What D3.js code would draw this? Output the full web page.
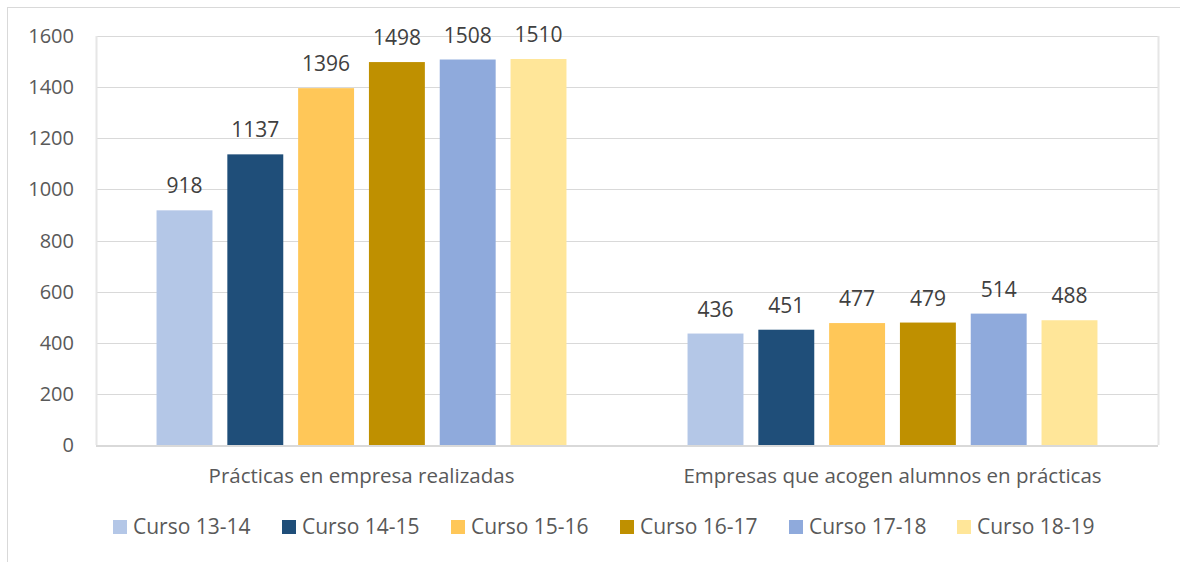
<!DOCTYPE html>
<html>
<head>
<meta charset="utf-8">
<script src="https://cdn.jsdelivr.net/npm/d3@7"></script>
<style>
  body { margin: 0; background: #fff; }
  svg text { font-family: "Open Sans", "Liberation Sans", sans-serif; }
</style>
</head>
<body>
<div id="chart"></div>
<script>
// Chart data
const groups = ['Prácticas en empresa realizadas', 'Empresas que acogen alumnos en prácticas'];
const series = ['Curso 13-14', 'Curso 14-15', 'Curso 15-16', 'Curso 16-17', 'Curso 17-18', 'Curso 18-19'];
const practicas = [918, 1137, 1396, 1498, 1508, 1510];
const empresas = [436, 451, 477, 479, 514, 488];
const yTicks = [0, 200, 400, 600, 800, 1000, 1200, 1400, 1600];
const colors = ['#B4C7E7', '#1F4E79', '#FFC758', '#BF9000', '#8FAADC', '#FFE699'];

const width = 1180;
const height = 562;
const margin = { top: 36, right: 22, bottom: 117, left: 96 };

const svg = d3.select('#chart').append('svg')
    .attr('width', width)
    .attr('height', height);

// outer chart frame
svg.append('rect')
    .attr('x', 7.5).attr('y', 7.5)
    .attr('width', 1200).attr('height', 570)
    .attr('fill', 'none')
    .attr('stroke', '#d9d9d9');

const y = d3.scaleLinear()
    .domain([0, 1600])
    .range([height - margin.bottom, margin.top]);

const x0 = d3.scaleBand()
    .domain(groups)
    .range([margin.left, width - margin.right]);

const x1 = d3.scaleBand()
    .domain(series)
    .range([0, x0.bandwidth()])
    .paddingInner(0.21)
    .paddingOuter(0.855);

// gridlines
svg.append('g')
    .selectAll('line')
    .data(yTicks.slice(1))
    .enter().append('line')
    .attr('x1', margin.left).attr('x2', width - margin.right)
    .attr('y1', d => Math.round(y(d)) + 0.5).attr('y2', d => Math.round(y(d)) + 0.5)
    .attr('stroke', '#d9d9d9');

// plot area side borders
[margin.left, width - margin.right].forEach(xx => {
    svg.append('line')
        .attr('x1', xx + 0.5).attr('x2', xx + 0.5)
        .attr('y1', margin.top).attr('y2', y(0))
        .attr('stroke', '#e6e6e6')
        .attr('stroke-width', 2);
});

// y tick labels
svg.append('g')
    .selectAll('text')
    .data(yTicks)
    .enter().append('text')
    .attr('x', 74)
    .attr('y', d => y(d))
    .attr('dy', '0.35em')
    .attr('text-anchor', 'end')
    .attr('fill', '#595959')
    .style('font-size', '20px')
    .text(d => d);

const rows = groups.map((g, i) => ({
    group: g,
    values: (i === 0 ? practicas : empresas).map((v, j) => ({ key: series[j], value: v, color: colors[j] }))
}));

const groupSel = svg.selectAll('g.group')
    .data(rows)
    .enter().append('g')
    .attr('class', 'group')
    .attr('transform', d => `translate(${x0(d.group)},0)`);

groupSel.selectAll('rect')
    .data(d => d.values)
    .enter().append('rect')
    .attr('x', d => x1(d.key))
    .attr('y', d => y(d.value))
    .attr('width', x1.bandwidth())
    .attr('height', d => y(0) - y(d.value))
    .attr('fill', d => d.color);

groupSel.selectAll('text.val')
    .data(d => d.values)
    .enter().append('text')
    .attr('class', 'val')
    .attr('x', d => x1(d.key) + x1.bandwidth() / 2)
    .attr('y', d => y(d.value) - 17)
    .attr('text-anchor', 'middle')
    .attr('fill', '#404040')
    .style('font-size', '21px')
    .text(d => d.value);

// baseline
svg.append('line')
    .attr('x1', margin.left).attr('x2', width - margin.right)
    .attr('y1', y(0) + 1).attr('y2', y(0) + 1)
    .attr('stroke', '#d9d9d9')
    .attr('stroke-width', 2);

// category labels
svg.append('g')
    .selectAll('text')
    .data(groups)
    .enter().append('text')
    .attr('x', d => x0(d) + x0.bandwidth() / 2)
    .attr('y', 483)
    .attr('text-anchor', 'middle')
    .attr('fill', '#595959')
    .style('font-size', '20.5px')
    .text(d => d);

// legend
const legendX = [113, 282, 451, 620, 789, 957];
const legend = svg.append('g')
    .selectAll('g')
    .data(series)
    .enter().append('g')
    .attr('transform', (d, i) => `translate(${legendX[i]},520)`);

legend.append('rect')
    .attr('width', 14).attr('height', 14)
    .attr('fill', (d, i) => colors[i]);

legend.append('text')
    .attr('x', 20)
    .attr('y', 7)
    .attr('dy', '0.35em')
    .attr('fill', '#595959')
    .style('font-size', '21px')
    .text(d => d);
</script>
</body>
</html>
